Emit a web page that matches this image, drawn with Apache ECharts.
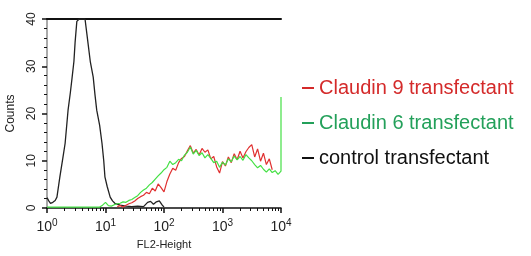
<!DOCTYPE html>
<html style="height: 100%">
	<head>
		<meta charset="UTF-8">
		<title>FL2-Height histogram</title>
		<script src="https://cdn.jsdelivr.net/npm/echarts@6/dist/echarts.min.js" type="text/javascript"></script>
	</head>
	<body style="height:100%; margin: 0; background-color:#ffffff">
		<div id='one' style="height: 256px;width: 531px;"></div>
		<script type="text/javascript">
			// x values are in decades (log10 of FL2-Height), y values are counts
			var decadeTicks = [0, 1, 2, 3, 4]
			var countTicks = [0, 10, 20, 30, 40]

			var controlX = [0, 0.03, 0.06, 0.1, 0.14, 0.17, 0.22, 0.27, 0.31, 0.36, 0.40, 0.43, 0.46, 0.48, 0.51, 0.55, 0.6, 0.65, 0.68, 0.70, 0.74, 0.79, 0.82, 0.85, 0.9, 0.94, 0.97, 0.99, 1.03, 1.08, 1.12, 1.16, 1.25, 1.35, 1.45, 1.55, 1.65, 1.72, 1.77, 1.82, 1.87, 1.92, 1.97, 2.0]
			var controlY = [2.2, 1.5, 1.0, 1.2, 1.6, 2.3, 6.6, 10.5, 13.7, 20.7, 24.5, 27.7, 31, 35, 39.5, 40, 40, 40, 37, 35, 31, 27.7, 24, 20.7, 17.5, 13.7, 10, 6.6, 4.5, 2.3, 1.5, 1.0, 0.6, 0.4, 0.3, 0.4, 0.3, 1.2, 1.4, 0.8, 1.3, 1.5, 0.6, 0.2]

			var greenX = [0, 0.9, 0.95, 1.0, 1.05, 1.1, 1.15, 1.2, 1.25, 1.3, 1.35, 1.4, 1.45, 1.5, 1.55, 1.6, 1.65, 1.7, 1.75, 1.8, 1.85, 1.9, 1.95, 2.0, 2.05, 2.1, 2.15, 2.2, 2.25, 2.3, 2.35, 2.4, 2.45, 2.5, 2.55, 2.6, 2.65, 2.7, 2.75, 2.8, 2.85, 2.9, 2.95, 3.0, 3.05, 3.1, 3.15, 3.2, 3.25, 3.3, 3.35, 3.4, 3.45, 3.5, 3.55, 3.6, 3.65, 3.7, 3.75, 3.8, 3.85, 3.9, 3.95, 4.0, 4.0]
			var greenY = [0.2, 0.2, 0.6, 1.2, 0.5, 0.4, 0.7, 0.9, 1.0, 1.3, 1.2, 1.6, 1.8, 2.2, 2.6, 3.3, 3.8, 4.2, 4.9, 5.4, 6.1, 6.8, 7.4, 8.1, 8.6, 9.9, 9.2, 9.6, 10.3, 10.0, 11.2, 11.8, 12.9, 11.4, 12.2, 11.1, 11.7, 10.6, 11.3, 10.5, 9.6, 9.9, 8.6, 9.7, 9.1, 10.4, 9.8, 11.0, 10.2, 10.9, 10.1, 11.3, 10.6, 10.0, 9.2, 8.5, 9.0, 8.2, 7.6, 8.3, 7.5, 7.9, 7.1, 7.8, 23.5]

			var redX = [1.2, 1.25, 1.3, 1.35, 1.4, 1.45, 1.5, 1.55, 1.6, 1.65, 1.7, 1.75, 1.8, 1.85, 1.9, 1.95, 2.0, 2.05, 2.1, 2.15, 2.2, 2.25, 2.3, 2.35, 2.4, 2.45, 2.5, 2.55, 2.6, 2.65, 2.7, 2.75, 2.8, 2.85, 2.9, 2.95, 3.0, 3.05, 3.1, 3.15, 3.2, 3.25, 3.3, 3.35, 3.4, 3.45, 3.5, 3.55, 3.6, 3.65, 3.7, 3.75, 3.8, 3.85]
			var redY = [0.3, 0.5, 0.2, 0.6, 0.9, 1.1, 1.5, 2.0, 2.4, 2.7, 3.3, 3.0, 4.2, 3.6, 5.1, 4.3, 3.4, 5.6, 7.2, 8.4, 8.0, 9.6, 10.5, 10.9, 12.1, 13.2, 11.6, 12.4, 11.2, 12.6, 11.8, 12.3, 10.4, 10.9, 8.7, 7.4, 9.8, 8.9, 10.8, 9.6, 11.5, 10.2, 12.0, 10.6, 11.9, 12.8, 13.4, 10.8, 12.5, 9.9, 11.6, 9.2, 10.4, 8.1]

			var legendNames = ['Claudin 9 transfectant', 'Claudin 6 transfectant', 'control transfectant']

			function pairs(xs, ys) {
				return xs.map(function (x, i) { return [x, ys[i]] })
			}

			// minor ticks at 2..9 inside every decade
			var minorTicks = []
			for (var d = 0; d < 4; d++) {
				for (var k = 2; k <= 9; k++) {
					minorTicks.push(d + Math.log10(k))
				}
			}

			var myChart = echarts.init(document.getElementById('one'));
			var font = 'Liberation Sans, Arial, sans-serif'

			option = {
				animation: false,
				grid: {
					left: 47,
					right: 250,
					top: 19,
					bottom: 48
				},
				legend: {
					orient: 'vertical',
					left: 297,
					top: 73,
					itemGap: 15,
					itemWidth: 12,
					itemHeight: 2,
					icon: 'rect',
					textStyle: { fontFamily: font, fontSize: 20 },
					data: [
						{ name: legendNames[0], textStyle: { color: '#d42a2a' }, itemStyle: { color: '#d42a2a' } },
						{ name: legendNames[1], textStyle: { color: '#23a05a' }, itemStyle: { color: '#23a05a' } },
						{ name: legendNames[2], textStyle: { color: '#111111' }, itemStyle: { color: '#111111' } }
					]
				},
				xAxis: [{
					type: 'value',
					min: 0,
					max: 4,
					interval: 1,
					name: 'FL2-Height',
					nameLocation: 'middle',
					nameGap: 31,
					nameTextStyle: { fontFamily: font, fontSize: 11, color: '#222' },
					axisLine: { lineStyle: { color: '#111', width: 1.5 } },
					axisTick: { length: 5, lineStyle: { color: '#111', width: 1.5 } },
					splitLine: { show: false },
					axisLabel: {
						margin: 10,
						formatter: function (v) { return '{b|10}{s|' + v + '}' },
						rich: {
							b: { fontFamily: font, fontSize: 14, color: '#222' },
							s: { fontFamily: font, fontSize: 10, color: '#222', verticalAlign: 'top', padding: [0, 0, 8, 0] }
						}
					}
				}, {
					type: 'value',
					min: 0,
					max: 4,
					position: 'bottom',
					axisLine: { show: false },
					axisLabel: { show: false },
					splitLine: { show: false },
					axisTick: { length: 3, customValues: minorTicks, lineStyle: { color: '#111', width: 1 } }
				}, {
					type: 'value',
					min: 0,
					max: 4,
					position: 'top',
					axisLine: { lineStyle: { color: '#111', width: 2 } },
					axisTick: { show: false },
					axisLabel: { show: false },
					splitLine: { show: false }
				}],
				yAxis: [{
					type: 'value',
					min: 0,
					max: 40,
					interval: 10,
					name: 'Counts',
					nameLocation: 'middle',
					nameRotate: 90,
					nameGap: 30,
					nameTextStyle: { fontFamily: font, fontSize: 12, color: '#222' },
					axisLine: { show: true, lineStyle: { color: '#111', width: 1.5 } },
					axisTick: { show: true, length: 5, lineStyle: { color: '#111', width: 1.5 } },
					minorTick: { show: true, splitNumber: 5, length: 3, lineStyle: { color: '#111', width: 1 } },
					splitLine: { show: false },
					axisLabel: {
						rotate: 90,
						margin: 9,
						fontFamily: font,
						fontSize: 12,
						color: '#222',
						customValues: countTicks
					}
				}, {
					type: 'value',
					min: 0,
					max: 40,
					position: 'right',
					axisLine: { show: true, lineStyle: { color: '#aaaaaa', width: 2 } },
					axisTick: { show: false },
					axisLabel: { show: false },
					splitLine: { show: false }
				}],
				series: [{
					name: legendNames[0],
					type: 'line',
					showSymbol: false,
					data: pairs(redX, redY),
					lineStyle: { color: '#e03030', width: 1.2 },
					color: '#d42a2a',
					z: 3
				}, {
					name: legendNames[1],
					type: 'line',
					showSymbol: false,
					data: pairs(greenX, greenY),
					lineStyle: { color: '#44e044', width: 1.2 },
					color: '#23a05a',
					z: 4
				}, {
					name: legendNames[2],
					type: 'line',
					showSymbol: false,
					data: pairs(controlX, controlY),
					lineStyle: { color: '#222222', width: 1.3 },
					color: '#111111',
					z: 2
				}]
			};
			myChart.setOption(option);
		</script>
	</body>
</html>
